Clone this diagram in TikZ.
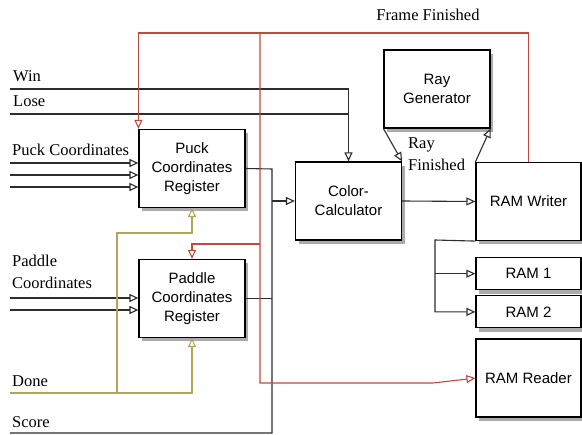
\documentclass[tikz,border=0pt]{standalone}
\usepackage{fontspec}
\setmainfont{Liberation Serif}
\newfontfamily\boxfamily{Liberation Sans}
\usepackage{tikz}
\usetikzlibrary{positioning,arrows.meta,shadows}
\usepackage{xcolor}
\definecolor{RedWire}{RGB}{192,74,62}
\definecolor{OliveWire}{RGB}{180,164,88}
\definecolor{WireGray}{RGB}{45,45,45}

\begin{document}
\begin{tikzpicture}[
    x=1pt, y=-1pt,
    block/.style={rectangle, draw=black, fill=white, line width=1.2pt,
        minimum width=106pt, minimum height=78pt, inner sep=0pt, align=center,
        font=\boxfamily\fontsize{15}{19}\selectfont,
        drop shadow={shadow xshift=3pt, shadow yshift=-4pt, fill=black!55, opacity=0.6}},
    ramblock/.style={block, minimum height=32pt},
    lbl/.style={font=\fontsize{16.5}{21.5}\selectfont, inner sep=0pt, anchor=base west},
    wire/.style={draw=WireGray, line width=1.1pt},
    redwire/.style={draw=RedWire, line width=1.1pt},
    olivewire/.style={draw=OliveWire, line width=1.1pt},
    arr/.style={-{Triangle[open, length=9pt, width=8pt]}}
]
\useasboundingbox (0,0) rectangle (582,435);

\node[block] (puck) at (192,168.5) {Puck\\Coordinates\\Register};
\node[block] (paddle) at (192,298.5) {Paddle\\Coordinates\\Register};
\node[block] (colorcalc) at (348.5,201) {Color-\\Calculator};
\node[block] (raygen) at (437,89) {Ray\\Generator};
\node[block, minimum width=105pt] (writer) at (528.5,201.5) {RAM Writer};
\node[ramblock, minimum width=105pt, below=16pt of writer] (ram1) {RAM 1};
\node[ramblock, minimum width=105pt, below=5pt of ram1] (ram2) {RAM 2};
\node[block, minimum width=105pt, below=10pt of ram2] (reader) {RAM Reader};

\node[lbl] (winlbl) at (13,82) {Win};
\node[lbl] (loselbl) at (13,107) {Lose};
\node[lbl] (pucklbl) at (12,156) {Puck Coordinates};
\node[lbl, anchor=north west, align=left] (paddlelbl) at (12,255) {Paddle\\Coordinates};
\node[lbl] (donelbl) at (12,387) {Done};
\node[lbl] (scorelbl) at (12,428) {Score};
\node[lbl, anchor=base] (framelbl) at (428,21) {Frame Finished};
\node[lbl, anchor=north west, align=left] (raylbl) at (408,138) {Ray\\Finished};

\coordinate (winin) at (10,89);
\coordinate (losein) at (10,114);
\coordinate (donein) at (10,393);
\coordinate (donesplit) at (117,393);
\coordinate (donemid) at (117,233);
\coordinate (scorein) at (10,433);
\coordinate (bustop) at (272,169);
\coordinate (busbot) at (272,433);
\coordinate (redtop) at (0,33);
\coordinate (redsplit) at (260,33);
\coordinate (redpad) at (260,244);
\coordinate (redlow) at (260,383);
\coordinate (redkink) at (433,383);
\coordinate (ramsplit) at (435,240);

\draw[wire, arr] (winin) -| (colorcalc.north);
\draw[wire] (losein) -- (losein -| colorcalc.north);
\foreach \i/\y in {1/163, 2/175, 3/187} {
  \coordinate (pk\i) at (10,\y);
  \draw[wire, arr] (pk\i) -- (pk\i -| puck.west);
}
\foreach \i/\y in {1/298, 2/310} {
  \coordinate (pd\i) at (10,\y);
  \draw[wire, arr] (pd\i) -- (pd\i -| paddle.west);
}
\draw[wire] (puck.east) -- (bustop) -- (busbot) -- (scorein);
\draw[wire] (paddle.east) -- (paddle.east -| bustop);
\draw[wire, arr] (colorcalc.west -| bustop) -- (colorcalc.west);
\draw[wire, arr] (colorcalc.east) -- (writer.west);
\draw[wire, arr] (raygen.south west) -- (colorcalc.north east);
\draw[wire, arr] (writer.north west) -- (raygen.south east);
\draw[wire, arr] (writer.south west) -- (ramsplit) |- (ram2.west);
\draw[wire, arr] (ramsplit |- ram1.west) -- (ram1.west);

\draw[redwire, arr] (writer.north) |- (redtop -| puck.north west) -- (puck.north west);
\draw[redwire, arr] (redsplit) -- (redlow) -- (redkink) -- (reader.west);
\draw[redwire, arr] (redpad) -| (paddle.north);

\draw[olivewire, arr] (donein) -| (paddle.south);
\draw[olivewire, arr] (donesplit) -- (donemid) -| (puck.south);
\end{tikzpicture}
\end{document}
